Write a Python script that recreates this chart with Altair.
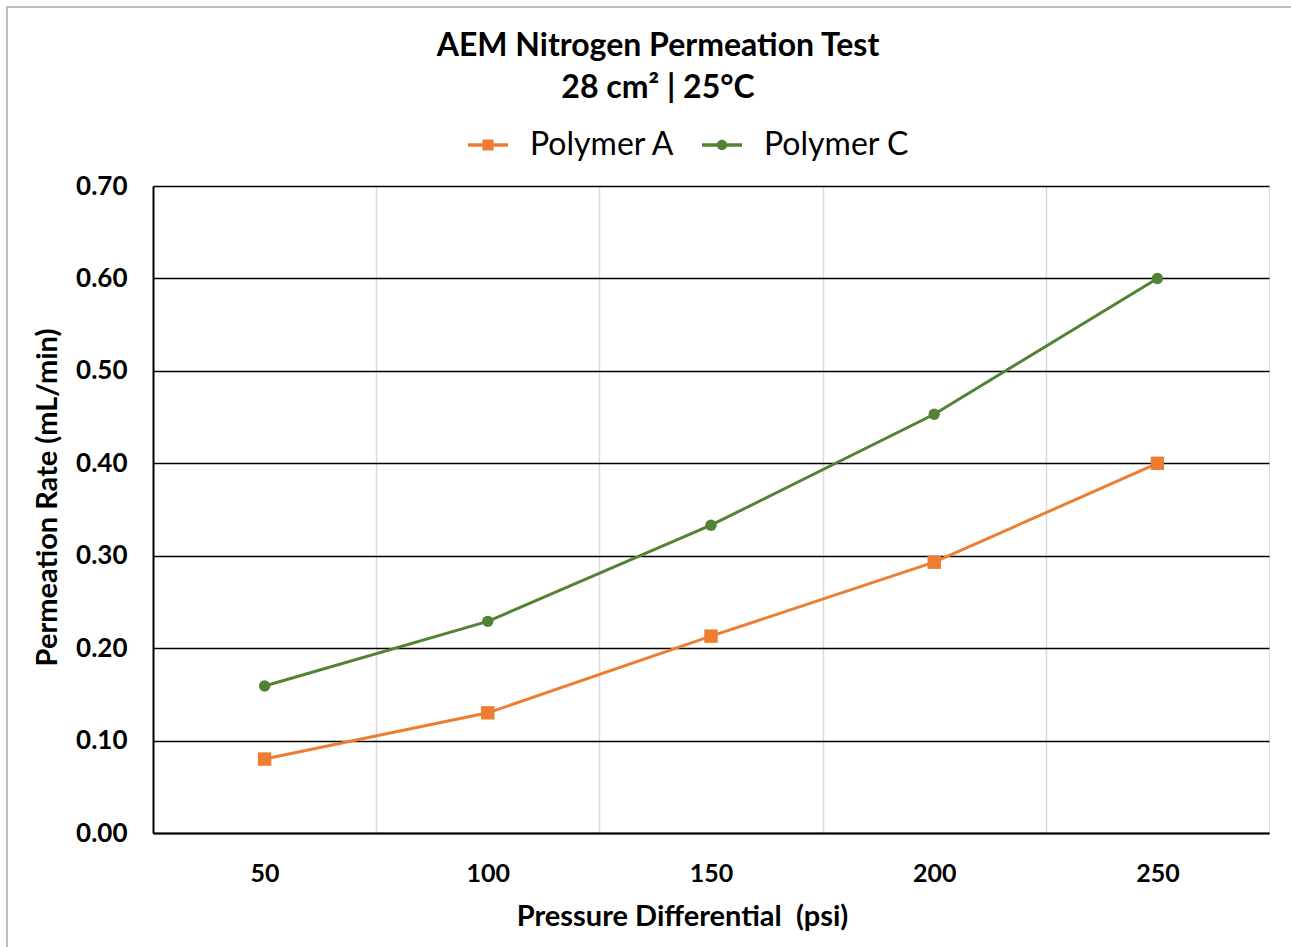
import altair as alt
import pandas as pd

pressure = [50, 100, 150, 200, 250]
polymer_a = [0.080, 0.130, 0.213, 0.293, 0.400]
polymer_c = [0.159, 0.229, 0.333, 0.453, 0.600]
series_names = ["Polymer A", "Polymer C"]
series_colors = ["#ED7D31", "#548235"]
x_ticks = [50, 75, 100, 125, 150, 175, 200, 225, 250]
y_ticks = [0.0, 0.1, 0.2, 0.3, 0.4, 0.5, 0.6, 0.7]

rows = []
for p, a in zip(pressure, polymer_a):
    rows.append({"pressure": p, "rate": a, "series": "Polymer A"})
for p, c in zip(pressure, polymer_c):
    rows.append({"pressure": p, "rate": c, "series": "Polymer C"})
df = pd.DataFrame(rows)

FONT = "Lato"
W, H = 1116, 647

is_a = alt.datum.series == "Polymer A"

x_enc = alt.X(
    "pressure:Q",
    scale=alt.Scale(domain=[25, 275], nice=False, zero=False),
    axis=alt.Axis(
        values=x_ticks,
        labelExpr="datum.value % 50 == 0 ? datum.label : ''",
        gridColor={"condition": {"test": "datum.value % 50 == 0", "value": "transparent"}, "value": "#d9d9d9"},
        grid=True,
        gridWidth=1.5,
        ticks=False,
        domainColor="black",
        domainWidth=2,
        labelFont=FONT,
        labelFontSize=25,
        labelFontWeight="bold",
        labelColor="black",
        labelPadding=28,
        title="Pressure Differential \u00a0(psi)",
        titleFont=FONT,
        titleFontSize=29,
        titleFontWeight="bold",
        titleColor="black",
        titleX=529,
        titleY=83,
        titleBaseline="middle",
        titleAnchor="start",
        titleAlign="center",
    ),
)
y_enc = alt.Y(
    "rate:Q",
    scale=alt.Scale(domain=[0, 0.7], nice=False),
    axis=alt.Axis(
        values=y_ticks,
        format=".2f",
        grid=True,
        gridColor="black",
        gridWidth=1.5,
        ticks=False,
        domainColor="black",
        domainWidth=2,
        labelFont=FONT,
        labelFontSize=26,
        labelFontWeight="bold",
        labelColor="black",
        labelPadding=26,
        title="Permeation Rate (mL/min)",
        titleFont=FONT,
        titleFontSize=29,
        titleFontWeight="bold",
        titleColor="black",
        titleAngle=-90,
        titleX=-106,
        titleY=311,
        titleAlign="center",
        titleBaseline="middle",
    ),
)

base = alt.Chart(df)

lines = base.mark_line(strokeWidth=3).encode(
    x=x_enc,
    y=y_enc,
    detail="series:N",
    color=alt.condition(is_a, alt.value(series_colors[0]), alt.value(series_colors[1])),
)

squares = base.transform_filter(is_a).mark_point(filled=True, opacity=1, shape="square", size=180).encode(
    x="pressure:Q", y="rate:Q", color=alt.value(series_colors[0])
)
circles = base.transform_filter(~is_a).mark_point(filled=True, opacity=1, shape="circle", size=130).encode(
    x="pressure:Q", y="rate:Q", color=alt.value(series_colors[1])
)

path_a = "M-1,-0.09H1V0.09H-1Z M-0.28,-0.28H0.28V0.28H-0.28Z"
path_c = "M-1,-0.09H1V0.09H-1Z M0.26,0A0.26,0.26 0 1,1 -0.26,0A0.26,0.26 0 1,1 0.26,0Z"

legend_layer = base.transform_filter("false").mark_point(filled=True, opacity=1).encode(
    x="pressure:Q",
    y="rate:Q",
    color=alt.Color(
        "series:N",
        scale=alt.Scale(domain=series_names, range=series_colors),
        legend=alt.Legend(
            title=None,
            orient="none",
            legendX=315,
            legendY=-61,
            direction="horizontal",
            symbolSize=1600,
            symbolStrokeWidth=0,
            symbolOpacity=1,
            labelFont=FONT,
            labelFontSize=32,
            labelColor="black",
            labelOffset=22,
            columnPadding=26,
            padding=0,
        ),
    ),
    shape=alt.Shape("series:N", scale=alt.Scale(domain=series_names, range=[path_a, path_c])),
)

frame = alt.Chart(pd.DataFrame({"k": [0]})).mark_rect(
    fill=None, stroke="#bfbfbf", strokeWidth=2
).encode(x=alt.value(-146), y=alt.value(-179), x2=alt.value(1200), y2=alt.value(800))

chart = alt.layer(frame, lines, squares, circles, legend_layer).properties(
    width=W,
    height=H,
    title=alt.TitleParams(
        text=["AEM Nitrogen Permeation Test", "28 cm\u00b2 | 25\u00b0C"],
        font=FONT,
        fontSize=32,
        fontWeight="bold",
        color="black",
        anchor="middle",
        lineHeight=42,
        dx=-53,
        dy=103,
    ),
    padding={"left": 153, "top": 186, "right": 22, "bottom": 114},
    autosize=alt.AutoSizeParams(type="none"),
).configure_view(stroke="black", strokeWidth=2).configure(background="white")

chart.save("out.html", embed_options={"renderer": "svg", "actions": False})
